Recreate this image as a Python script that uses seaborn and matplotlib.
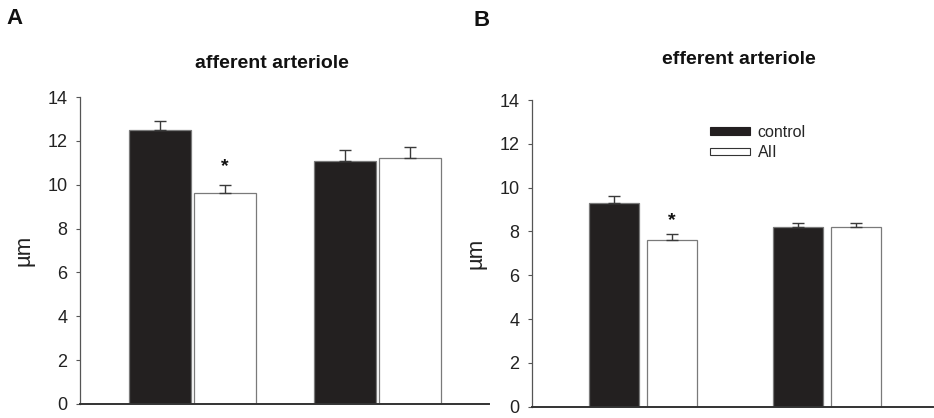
import numpy as np
import pandas as pd
import matplotlib
matplotlib.use("Agg")
import matplotlib.pyplot as plt
from matplotlib.patches import Patch
import seaborn as sns

# Vessel diameters (µm), mean and SEM, per condition and treatment group
groups = ["control", "AII"]
conditions = ["cond1", "cond2"]
afferent_mean = [12.5, 9.6, 11.1, 11.2]
afferent_sem = [0.4, 0.4, 0.5, 0.5]
efferent_mean = [9.3, 7.6, 8.2, 8.2]
efferent_sem = [0.3, 0.3, 0.2, 0.2]
yticks = [0, 2, 4, 6, 8, 10, 12, 14]

sns.set_theme(style="white")
plt.rcParams["font.family"] = ["Liberation Sans", "DejaVu Sans"]

BAR_COLORS = {"control": "#231f20", "AII": "#ffffff"}
EDGE = "#7a7a7a"
AXIS_GREY = "#555555"


def make_frame(means, sems):
    rows = []
    i = 0
    for c in conditions:
        for g in groups:
            rows.append({"condition": c, "group": g, "mean": means[i], "sem": sems[i]})
            i += 1
    return pd.DataFrame(rows)


def draw_panel(ax, df, width, gap, xlim, title, title_x, title_y, star_y):
    sns.barplot(data=df, x="condition", y="mean", hue="group",
                order=conditions, hue_order=groups, palette=BAR_COLORS,
                width=width, gap=gap, errorbar=None, edgecolor=EDGE,
                linewidth=0.9, legend=False, ax=ax)
    # upward-only SEM bars placed on each bar's centre
    bars = [p for p in ax.patches if p.get_height() > 0]
    bars.sort(key=lambda p: p.get_x())
    centres = [p.get_x() + p.get_width() / 2 for p in bars]
    heights = [p.get_height() for p in bars]
    ax.errorbar(centres, heights, yerr=[np.zeros(len(df)), df["sem"].values],
                fmt="none", ecolor="#3a3a3a", elinewidth=1.0, capsize=4.5,
                capthick=1.0, zorder=1)
    ax.text(centres[1], star_y, "*", ha="center", va="center",
            fontsize=14, fontweight="bold", color="#111111")

    ax.set_xlim(*xlim)
    ax.set_ylim(0, 14)
    ax.set_yticks(yticks)
    ax.set_xticks([])
    ax.set_xlabel("")
    ax.set_ylabel("µm", fontsize=16, color="#222222", labelpad=9)
    ax.tick_params(axis="y", direction="out", length=3, width=0.8,
                   color=AXIS_GREY, labelsize=13, labelcolor="#222222", pad=6,
                   left=True)
    for s in ("top", "right"):
        ax.spines[s].set_visible(False)
    ax.spines["left"].set_color(AXIS_GREY)
    ax.spines["left"].set_linewidth(0.9)
    ax.spines["bottom"].set_color("#333333")
    ax.spines["bottom"].set_linewidth(1.4)
    ax.text(title_x, title_y, title, transform=ax.figure.transFigure,
            ha="center", va="center", fontsize=14, fontweight="bold",
            color="#111111")


fig = plt.figure(figsize=(9.34, 4.18), dpi=100)
axA = fig.add_axes([0.0857, 0.0335, 0.4379, 0.7344])
axB = fig.add_axes([0.5696, 0.0270, 0.4293, 0.7337])

draw_panel(axA, make_frame(afferent_mean, afferent_sem), 0.70, 0.05,
           (-0.608, 1.603), "afferent arteriole", 272 / 934, 1 - 64 / 418, 10.85)
draw_panel(axB, make_frame(efferent_mean, efferent_sem), 0.63, 0.14,
           (-0.602, 1.574), "efferent arteriole", 739 / 934, 1 - 59 / 418, 8.5)

handles = [Patch(facecolor=BAR_COLORS["control"], edgecolor="#231f20", linewidth=0.8),
           Patch(facecolor=BAR_COLORS["AII"], edgecolor="#333333", linewidth=0.8)]
axB.legend(handles, groups, loc="upper left", bbox_to_anchor=(0.445, 0.92),
           frameon=False, fontsize=11.5, handlelength=2.45, handleheight=0.35,
           handletextpad=0.5, labelspacing=0.35, borderaxespad=0, borderpad=0)

fig.text(6 / 934, 1 - 18 / 418, "A", ha="left", va="center",
         fontsize=16, fontweight="bold", color="#111111")
fig.text(473 / 934, 1 - 20 / 418, "B", ha="left", va="center",
         fontsize=16, fontweight="bold", color="#111111")

fig.savefig("out.png", dpi=100)
